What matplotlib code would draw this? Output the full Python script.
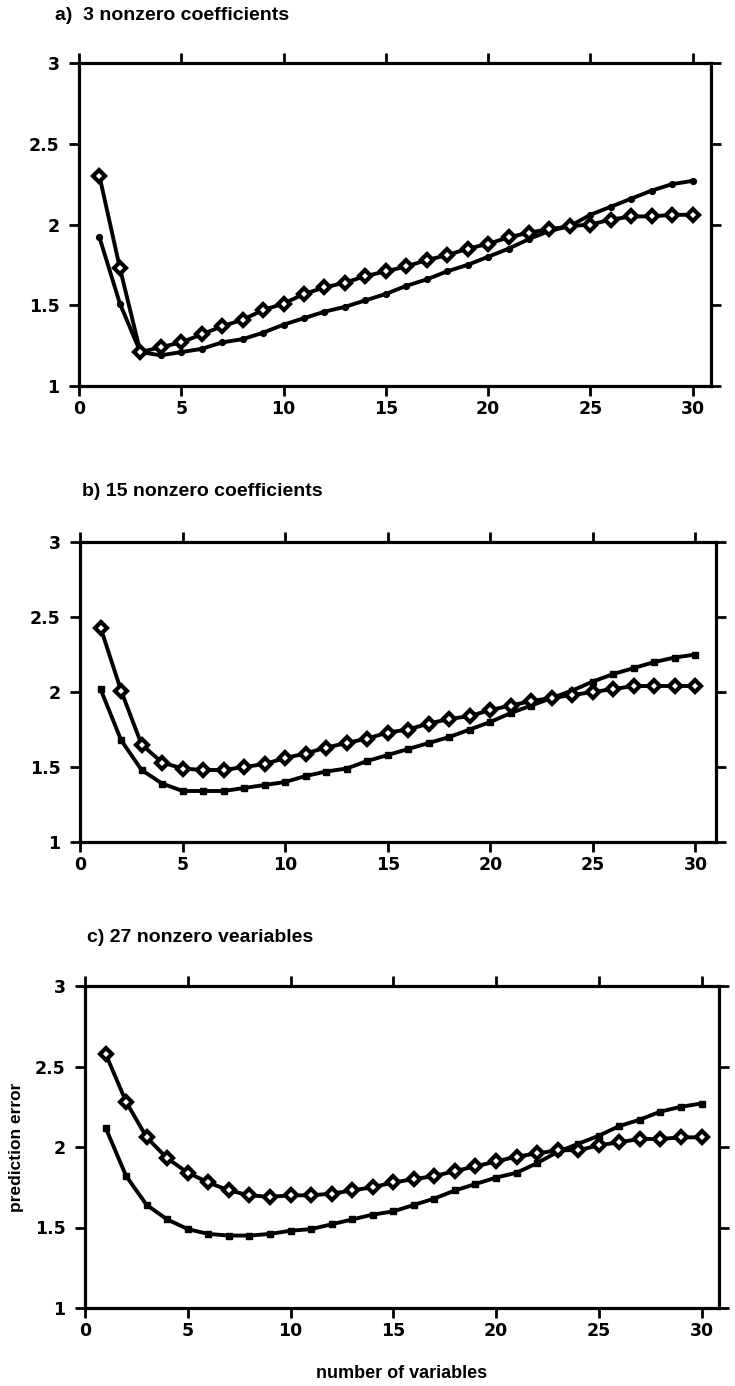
import matplotlib
matplotlib.use("Agg")
import matplotlib.pyplot as plt

plt.rcParams["font.family"] = ["Liberation Sans", "DejaVu Sans"]

n_vars = list(range(1, 31))

# a) 3 nonzero coefficients
a_diamond = [2.30, 1.73, 1.21, 1.24, 1.27, 1.32, 1.37, 1.41, 1.47, 1.51,
             1.57, 1.61, 1.64, 1.68, 1.71, 1.74, 1.78, 1.81, 1.85, 1.88,
             1.92, 1.95, 1.97, 1.99, 2.00, 2.03, 2.05, 2.05, 2.06, 2.06]
a_dot = [1.92, 1.51, 1.21, 1.19, 1.21, 1.23, 1.27, 1.29, 1.33, 1.38,
         1.42, 1.46, 1.49, 1.53, 1.57, 1.62, 1.66, 1.71, 1.75, 1.80,
         1.85, 1.91, 1.96, 1.99, 2.06, 2.11, 2.16, 2.21, 2.25, 2.27]

# b) 15 nonzero coefficients
b_diamond = [2.43, 2.01, 1.65, 1.53, 1.49, 1.48, 1.48, 1.50, 1.52, 1.56,
             1.59, 1.63, 1.66, 1.69, 1.73, 1.75, 1.79, 1.82, 1.84, 1.88,
             1.91, 1.94, 1.96, 1.98, 2.00, 2.02, 2.04, 2.04, 2.04, 2.04]
b_square = [2.02, 1.68, 1.48, 1.39, 1.34, 1.34, 1.34, 1.36, 1.38, 1.40,
            1.44, 1.47, 1.49, 1.54, 1.58, 1.62, 1.66, 1.70, 1.75, 1.80,
            1.86, 1.91, 1.96, 2.01, 2.07, 2.12, 2.16, 2.20, 2.23, 2.25]

# c) 27 nonzero veariables
c_diamond = [2.58, 2.28, 2.06, 1.93, 1.84, 1.78, 1.73, 1.70, 1.69, 1.70,
             1.70, 1.71, 1.73, 1.75, 1.78, 1.80, 1.82, 1.85, 1.88, 1.91,
             1.94, 1.96, 1.98, 1.98, 2.01, 2.03, 2.05, 2.05, 2.06, 2.06]
c_square = [2.12, 1.82, 1.64, 1.55, 1.49, 1.46, 1.45, 1.45, 1.46, 1.48,
            1.49, 1.52, 1.55, 1.58, 1.60, 1.64, 1.68, 1.73, 1.77, 1.81,
            1.84, 1.90, 1.97, 2.02, 2.07, 2.13, 2.17, 2.22, 2.25, 2.27]

titles = ["a)  3 nonzero coefficients", "b) 15 nonzero coefficients", "c) 27 nonzero veariables"]
x_ticks = [0, 5, 10, 15, 20, 25, 30]
y_ticks = [1, 1.5, 2, 2.5, 3]
y_tick_labels = ["1", "1.5", "2", "2.5", "3"]

W, H = 735, 1386
fig = plt.figure(figsize=(W / 100, H / 100), dpi=100)

# pixel boxes: left, right, top, bottom
boxes = [(79, 711, 63, 386), (80, 716, 542, 842), (85, 719, 986, 1308)]
xmaxes = [30.9, 31.0, 30.85]
title_pos = [(55, 16), (82, 491), (87, 937)]
series = [(a_diamond, a_dot, "o"), (b_diamond, b_square, "s"), (c_diamond, c_square, "s")]

for i, (l, r, t, b) in enumerate(boxes):
    ax = fig.add_axes([l / W, 1 - b / H, (r - l) / W, (b - t) / H])
    up, low, mk = series[i]
    ax.plot(n_vars, low, color="black", lw=2.8, marker=mk,
            ms=4.2 if mk == "o" else 3.8, mfc="black", mec="black", zorder=3)
    ax.plot(n_vars, up, color="black", lw=2.8, marker="D", ms=6.0,
            mfc="white", mec="black", mew=3.0, zorder=4)
    ax.set_xlim(0, xmaxes[i])
    ax.set_ylim(1, 3)
    ax.set_xticks(x_ticks)
    ax.set_yticks(y_ticks)
    ax.set_yticklabels(y_tick_labels)
    for s in ax.spines.values():
        s.set_linewidth(2.3)
    ax.tick_params(axis="both", which="both", direction="out", length=7, width=2,
                   top=True, right=True, labelsize=12.5)
    ax.tick_params(axis="x", pad=3)
    ax.tick_params(axis="y", pad=7)
    for lab in ax.get_xticklabels() + ax.get_yticklabels():
        lab.set_fontweight("bold")
        lab.set_fontfamily("DejaVu Sans")
    fig.text(title_pos[i][0] / W, 1 - title_pos[i][1] / H, titles[i],
             fontsize=14, fontweight="bold", va="center", ha="left")
    if i == 2:
        ax.set_ylabel("prediction error", fontsize=12.5, fontweight="bold")
        ax.yaxis.set_label_coords(-0.096, 0.5)
        ax.set_xlabel("number of variables", fontsize=13, fontweight="bold", labelpad=18)

fig.savefig("out.png", dpi=100)
